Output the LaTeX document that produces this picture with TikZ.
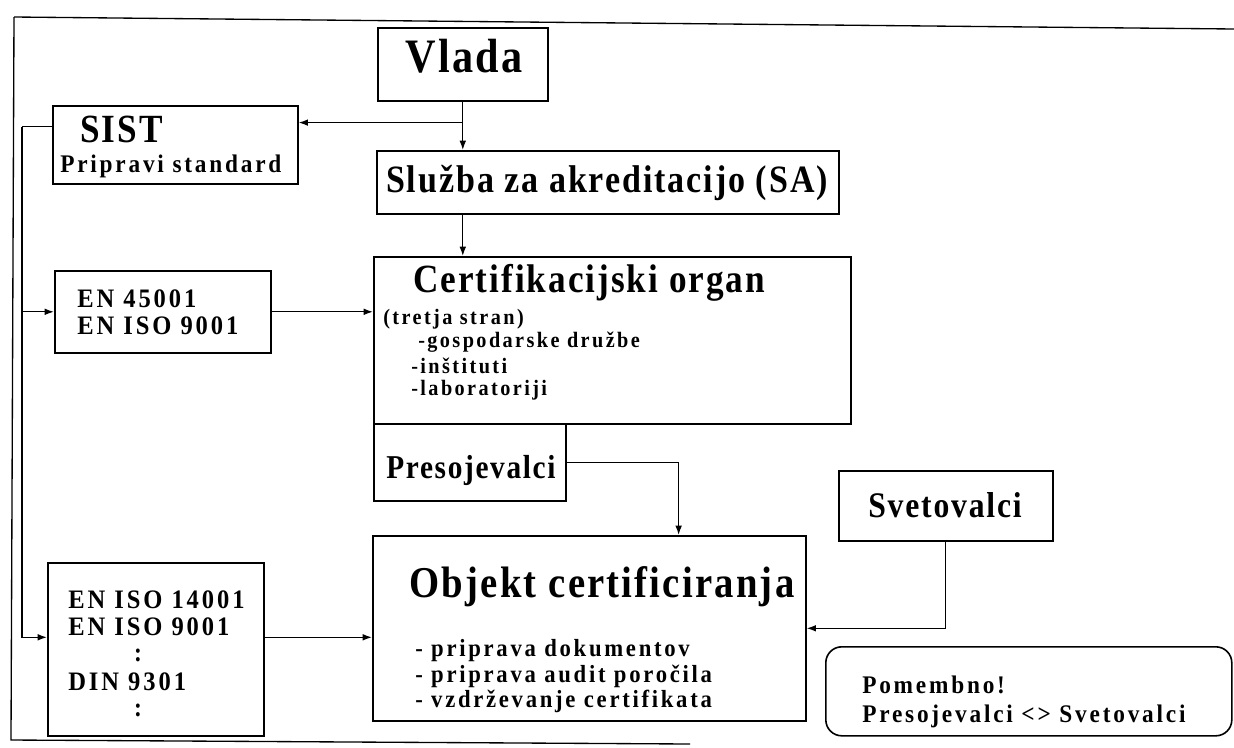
\documentclass[tikz,border=0pt]{standalone}
\usepackage{fontspec}
\setmainfont[LetterSpace=5,FakeStretch=0.88]{Liberation Serif}
\newfontfamily\widefont[LetterSpace=11,FakeStretch=0.92]{Liberation Serif}
\usetikzlibrary{arrows.meta,positioning}

\begin{document}
\begin{tikzpicture}[x=0.75pt,y=-0.75pt,
        box/.style={rectangle, draw, line width=1.2pt, inner sep=0pt, anchor=north west},
        link/.style={line width=1pt, -{Latex[length=7pt,width=5pt]}},
        plain/.style={line width=1pt},
        heading/.style={font=\bfseries\fontsize{#1}{#1}\selectfont, inner sep=0pt},
        entry/.style={font=\widefont\bfseries\fontsize{#1}{#1}\selectfont, inner sep=0pt, anchor=west}
    ]
        \useasboundingbox (0,0) rectangle (1234,747);
        % frame of the page
        \draw[plain] (14,17) -- (1234,29);
        \draw[plain] (14,17) -- (11,740) -- (690,744);

        \node[box, minimum width=127.5pt, minimum height=54.75pt] (vlada) at (377,27) {};
        \node[heading=36] (vladaT) at (464,56) {Vlada};
        \node[box, minimum width=183.75pt, minimum height=58.5pt] (sist) at (52,105) {};
        \node[heading=30, anchor=west] (sistT) at (80,129) {SIST};
        \node[entry=19] (sistS) at (60,166) {Pripravi standard};
        \node[box, minimum width=346.5pt, minimum height=47.25pt] (sluzba) at (376,150) {};
        \node[heading=29] (sluzbaT) at (607,183) {Služba za akreditacijo (SA)};

        \node[box, minimum width=357.75pt, minimum height=125.25pt] (cert) at (373,256) {};
        \node[heading=30, anchor=west] (certT) at (413,283) {Certifikacijski organ};
        \node[entry=16.5] (certA) at (383,319) {(tretja stran)};
        \node[entry=16.5] (certB) at (418,342) {-gospodarske družbe};
        \node[entry=16.5] (certC) at (411,366) {-inštituti};
        \node[entry=16.5] (certD) at (411,390) {-laboratoriji};
        \node[box, minimum width=144pt, minimum height=57.75pt] (preso) at (373,423) {};
        \node[heading=25, anchor=west] (presoT) at (386,470) {Presojevalci};

        \node[box, minimum width=160.5pt, minimum height=52.5pt] (svet) at (838,470) {};
        \node[heading=27] (svetT) at (945,505) {Svetovalci};
        \node[box, minimum width=324.75pt, minimum height=138.75pt] (objekt) at (372,535) {};
        \node[heading=33] (objektT) at (602,587) {Objekt certificiranja};
        \node[entry=18.5] (objektA) at (415,651) {- priprava dokumentov};
        \node[entry=18.5] (objektB) at (415,676) {- priprava audit poročila};
        \node[entry=18.5] (objektC) at (415,701) {- vzdrževanje certifikata};

        \node[box, minimum width=162pt, minimum height=61.5pt] (en) at (54,270) {};
        \node[entry=20] (enA) at (77,299) {EN 45001};
        \node[entry=20] (enB) at (77,326) {EN ISO 9001};
        \node[box, minimum width=162pt, minimum height=129.75pt] (iso) at (47,562) {};
        \node[entry=20] (isoA) at (68,600) {EN ISO 14001};
        \node[entry=20] (isoB) at (68,627) {EN ISO 9001};
        \node[heading=20] (isoC) at (138,655) {:};
        \node[entry=20] (isoD) at (68,682) {DIN 9301};
        \node[heading=20] (isoE) at (138,710) {:};

        \node[box, rounded corners=12pt, minimum width=304.5pt, minimum height=66.75pt] (note) at (825,646) {};
        \node[entry=19] (noteA) at (862,685) {Pomembno!};
        \node[entry=19] (noteB) at (862,716) {Presojevalci <> Svetovalci};

        % connectors
        \coordinate (split) at ([yshift=-15.75pt]vlada.south);
        \draw[link] (vlada.south) -- (vlada.south |- sluzba.north);
        \draw[link] (split) -- (split -| sist.east);
        \draw[link] (vlada.south |- sluzba.south) -- (vlada.south |- cert.north);
        \draw[link] (en.east) -- (en.east -| cert.west);
        \draw[link] ([yshift=9pt]iso.east) -- ([yshift=9pt]iso.east -| objekt.west);
        \coordinate (bus) at ([xshift=-22.5pt,yshift=13.5pt]sist.west);
        \draw[plain] ([yshift=13.5pt]sist.west) -- (bus);
        \draw[link] (bus) |- ([yshift=9pt]iso.west);
        \draw[link] (bus |- en.west) -- (en.west);
        \coordinate (drop) at ([xshift=67pt]objekt.north);
        \draw[link] (preso.east) -| (drop);
        \draw[link] (svet.south) |- (objekt.east);
    \end{tikzpicture}
\end{document}
